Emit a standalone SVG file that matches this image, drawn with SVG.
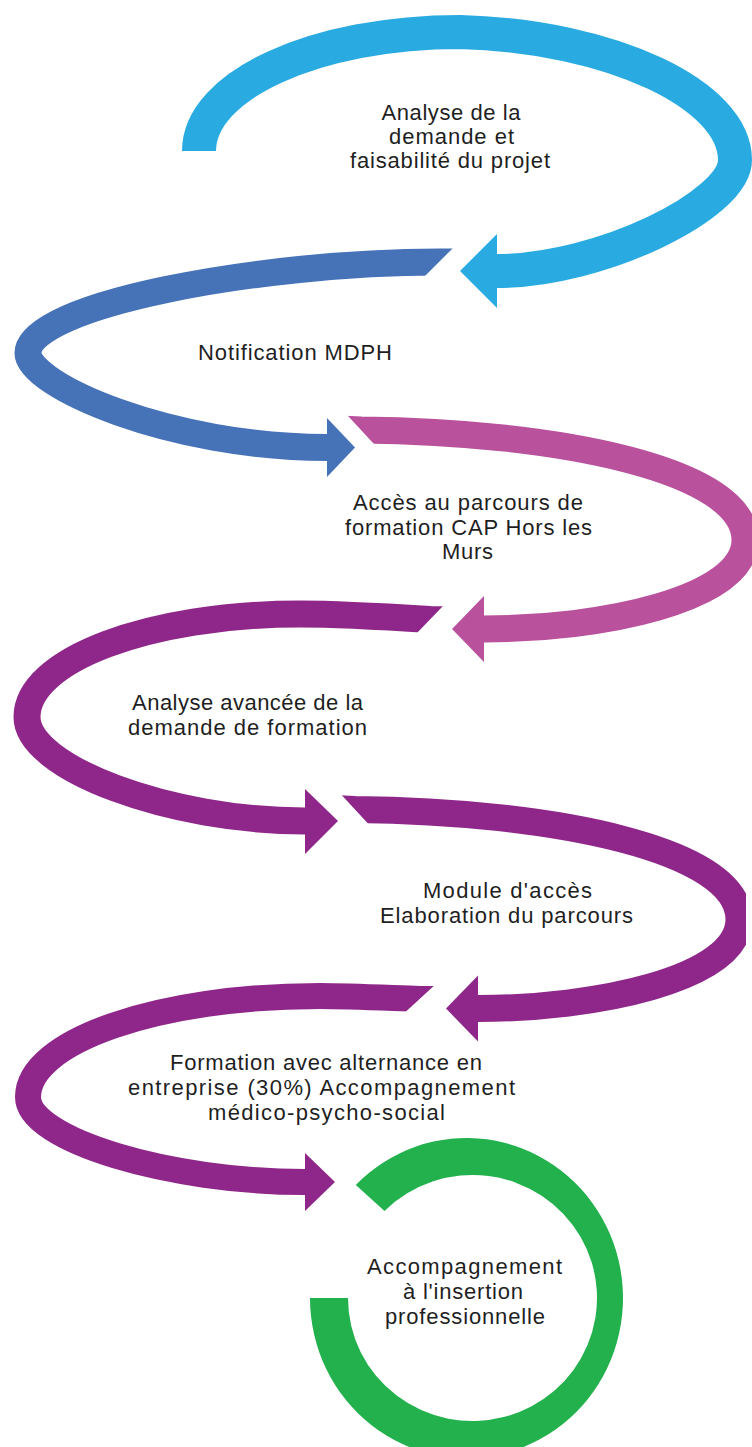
<svg xmlns="http://www.w3.org/2000/svg" width="752" height="1447" viewBox="0 0 752 1447">
<style>
.t{font-family:"Liberation Sans",Arial,sans-serif;font-size:22px;fill:#1f1f1f;text-anchor:middle}
.band{fill:none;stroke-linecap:butt;stroke-linejoin:round}
</style>
<defs>
<clipPath id="cutDB"><path clip-rule="evenodd" d="M0 0H752V1447H0Z M479 222L600 222L600 302L399 302Z"/></clipPath>
<clipPath id="cutPink"><path clip-rule="evenodd" d="M0 0H752V1447H0Z M324 390L398 470L300 470L300 390Z"/></clipPath>
<clipPath id="cutP1"><path clip-rule="evenodd" d="M0 0H752V1447H0Z M468 580L560 580L560 660L391 660Z"/></clipPath>
<clipPath id="cutP3"><path clip-rule="evenodd" d="M0 0H752V1447H0Z M462 960L560 960L560 1040L375 1040Z"/></clipPath>
</defs>
<rect width="752" height="1447" fill="#ffffff"/>

<g id="step1">
<path class="band" stroke="#29ABE2" stroke-width="34" d="M199 151 C199 85 316 32 460 32 C612 36 735 95 735 160 C735 205 600 271 497 271"/>
<polygon fill="#29ABE2" points="497,234 460,271 497,308"/>
<text class="t" x="451" y="120" textLength="139">Analyse de la</text>
<text class="t" x="451.5" y="144" textLength="125">demande et</text>
<text class="t" x="450" y="168" textLength="200">faisabilité du projet</text>
</g>

<g id="step2">
<path class="band" stroke="#4672B8" stroke-width="27" clip-path="url(#cutDB)" d="M462 262 L439 262 C260 262 28 305 28 353 C28 385 170 447.5 327 447.5"/>
<polygon fill="#4672B8" points="327,418 355,447.5 327,477"/>
<text class="t" x="295" y="360" textLength="194">Notification MDPH</text>
</g>

<g id="step3">
<path class="band" stroke="#B9519C" stroke-width="27" clip-path="url(#cutPink)" d="M339 429 L361 430 C560 432 745 470 745 540 C745 600 600 629 484 629"/>
<polygon fill="#B9519C" points="484,596 452,629 484,662"/>
<text class="t" x="468" y="510" textLength="230">Accès au parcours de</text>
<text class="t" x="468.5" y="534.5" textLength="247">formation CAP Hors les</text>
<text class="t" x="467.5" y="559" textLength="51">Murs</text>
</g>

<g id="step4">
<path class="band" stroke="#8F278A" stroke-width="27" clip-path="url(#cutP1)" d="M452 620 L430 619.5 C390 617 340 614 300 614 C149 614 27 660 27 717 C27 768 170 821 305 821"/>
<polygon fill="#8F278A" points="305,789 338,821 305,854"/>
<text class="t" x="247.5" y="710" textLength="231">Analyse avancée de la</text>
<text class="t" x="247.5" y="735" textLength="239">demande de formation</text>
</g>

<g id="step5">
<g transform="translate(-6 379.5)">
<path class="band" stroke="#8F278A" stroke-width="27" clip-path="url(#cutPink)" d="M339 429 L361 430 C560 432 745 470 745 540 C745 600 600 629 484 629"/>
<polygon fill="#8F278A" points="484,596 452,629 484,662"/>
</g>
<text class="t" x="507.5" y="898" textLength="169">Module d'accès</text>
<text class="t" x="506.5" y="923" textLength="253">Elaboration du parcours</text>
</g>

<g id="step6">
<path class="band" stroke="#8F278A" stroke-width="26" clip-path="url(#cutP3)" d="M442 999 L420 999 C390 998 350 996 320 996 C159 996 28 1041 28 1097 C28 1140 170 1182 305 1182"/>
<polygon fill="#8F278A" points="305,1153 335,1182 305,1211"/>
<text class="t" x="326" y="1070" textLength="312">Formation avec alternance en</text>
<text class="t" x="321.5" y="1095" textLength="387">entreprise (30%) Accompagnement</text>
<text class="t" x="326.5" y="1120" textLength="237">médico-psycho-social</text>
</g>

<g id="step7">
<path fill="#22B14C" d="M355.8 1184.9 A156.5 160 0 1 1 310 1298 L348 1298 A124.5 123 0 1 0 384.5 1211 Z"/>
<text class="t" x="464.5" y="1274" textLength="195">Accompagnement</text>
<text class="t" x="463" y="1299" textLength="120">à l'insertion</text>
<text class="t" x="465" y="1324" textLength="160">professionnelle</text>
</g>

<g id="connectors"/>
</svg>
